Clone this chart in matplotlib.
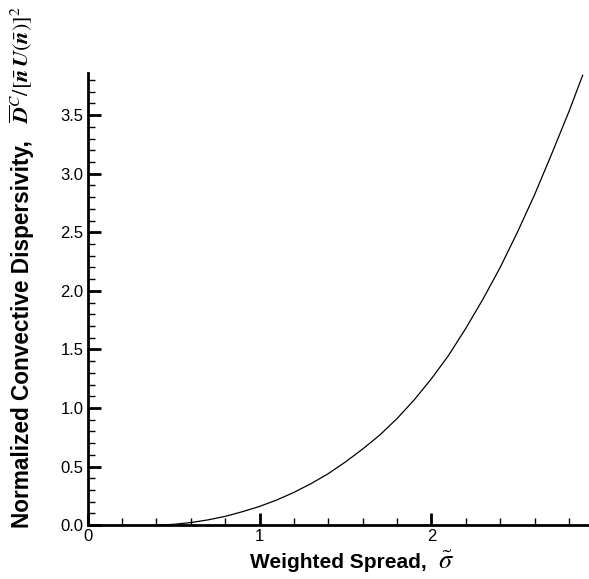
import matplotlib.pyplot as plt
import numpy as np
from matplotlib.ticker import MultipleLocator

# weighted spread vs normalized convective dispersivity
sigma = [0.40, 0.50, 0.60, 0.70, 0.80, 0.90, 1.00, 1.10, 1.20, 1.30, 1.40, 1.50, 1.60,
         1.70, 1.80, 1.90, 2.00, 2.10, 2.20, 2.30, 2.40, 2.50, 2.60, 2.70, 2.80, 2.88]
disp = [0.0, 0.007, 0.022, 0.045, 0.075, 0.115, 0.16, 0.215, 0.28, 0.355, 0.44, 0.54, 0.65,
        0.77, 0.91, 1.07, 1.25, 1.45, 1.68, 1.93, 2.20, 2.50, 2.82, 3.17, 3.53, 3.84]

xticks = [0, 1, 2]
yticks = [0.0, 0.5, 1.0, 1.5, 2.0, 2.5, 3.0, 3.5]

plt.rcParams['font.family'] = ['Liberation Sans', 'DejaVu Sans']
plt.rcParams['mathtext.fontset'] = 'stix'

fig = plt.figure(figsize=(5.89, 5.79), dpi=100)
ax = fig.add_axes([0.149, 0.093, 0.849, 0.781])
ax.plot(sigma, disp, color='black', lw=0.9)

ax.set_xlim(0, 2.91)
ax.set_ylim(0, 3.86)
ax.set_xticks(xticks)
ax.set_xticklabels([str(t) for t in xticks])
ax.set_yticks(yticks)
ax.set_yticklabels(['%.1f' % t for t in yticks])
ax.xaxis.set_minor_locator(MultipleLocator(0.2))
ax.yaxis.set_minor_locator(MultipleLocator(0.1))
ax.tick_params(which='major', direction='in', length=9, width=2, labelsize=12, pad=3)
ax.tick_params(which='minor', direction='in', length=5, width=1)
for s in ['top', 'right']:
    ax.spines[s].set_visible(False)
for s in ['left', 'bottom']:
    ax.spines[s].set_linewidth(2)

fig.text(0.575, 0.028, 'Weighted Spread,', ha='center', va='center',
         fontsize=15, fontweight='bold')
fig.text(0.757, 0.030, r'$\tilde{\sigma}$', ha='center', va='center', fontsize=19)
fig.text(0.038, 0.088, 'Normalized Convective Dispersivity,',
         ha='center', va='bottom', rotation=90, fontsize=16.3, fontweight='bold')
fig.text(0.036, 0.785, r'$\overline{\mathbfit{D}}^{C}/[\bar{\mathbfit{n}}\,\mathbfit{U}(\bar{\mathbfit{n}})]^{2}$',
         ha='center', va='bottom', rotation=90, fontsize=16)

fig.savefig('out.png', dpi=100)
